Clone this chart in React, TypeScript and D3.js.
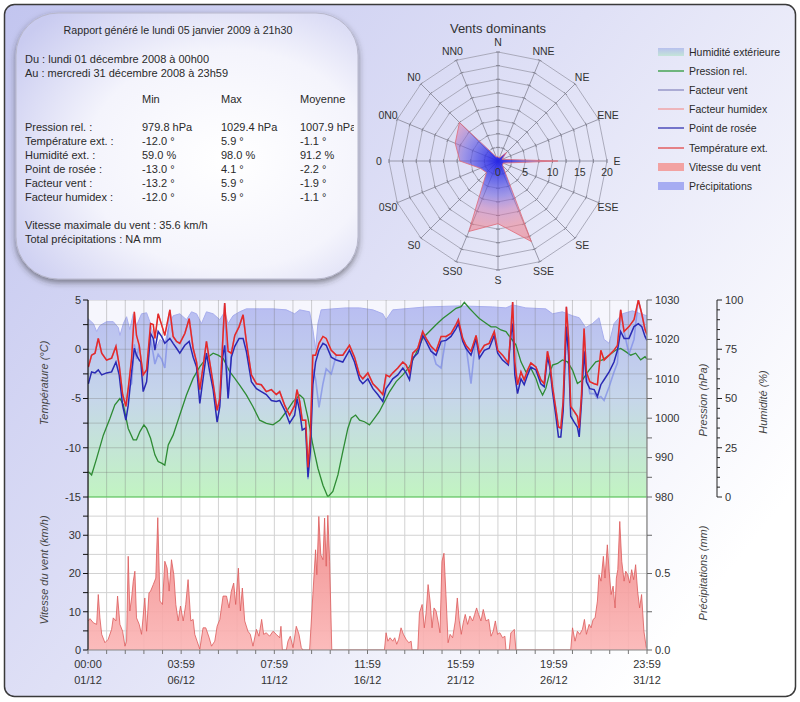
import React from "react";
import * as d3 from "d3";

// ---------------- Report ----------------
const reportTitle = "Rapport généré le lundi 05 janvier 2009 à 21h30";
const periodLines = ["Du : lundi 01 décembre 2008 à 00h00", "Au : mercredi 31 décembre 2008 à 23h59"];
const statHeaders = ["Min", "Max", "Moyenne"];
const statLabels = ["Pression rel. :", "Température ext. :", "Humidité ext. :", "Point de rosée :", "Facteur vent :", "Facteur humidex :"];
const statMin = ["979.8 hPa", "-12.0 °", "59.0 %", "-13.0 °", "-13.2 °", "-12.0 °"];
const statMax = ["1029.4 hPa", "5.9 °", "98.0 %", "4.1 °", "5.9 °", "5.9 °"];
const statAvg = ["1007.9 hPa", "-1.1 °", "91.2 %", "-2.2 °", "-1.9 °", "-1.1 °"];
const footerLines = ["Vitesse maximale du vent : 35.6 km/h", "Total précipitations : NA mm"];

// ---------------- Wind rose ----------------
const roseTitle = "Vents dominants";
const roseDirections = ["N", "NNE", "NE", "ENE", "E", "ESE", "SE", "SSE", "S", "SS0", "S0", "0S0", "0", "0N0", "N0", "NN0"];
const roseSpeeds = [0.8, 0.6, 2.2, 0.8, 11, 1, 1.2, 16, 11.5, 14, 3, 3.5, 7, 8.5, 10, 0.8];
const roseRingLabels = [0, 5, 10, 15, 20];

// ---------------- Legend ----------------
const legendLabels = ["Humidité extérieure", "Pression rel.", "Facteur vent", "Facteur humidex", "Point de rosée", "Température ext.", "Vitesse du vent", "Précipitations"];

// ---------------- Time axis ----------------
const timeLabels = ["00:00", "03:59", "07:59", "11:59", "15:59", "19:59", "23:59"];
const dateLabels = ["01/12", "06/12", "11/12", "16/12", "21/12", "26/12", "31/12"];

// ---------------- Temperature / dew point / wind chill (days since 01/12 00:00) ----------------
const tDays = [0.02,0.2,0.39,0.57,0.76,1.03,1.31,1.55,1.73,1.92,2.1,2.23,2.42,2.57,2.69,2.84,2.93,3.06,3.25,3.47,3.62,3.71,3.89,4.08,4.26,4.54,4.72,4.91,5.09,5.37,5.61,5.83,6.02,6.2,6.38,6.57,6.75,6.94,7.16,7.31,7.46,7.58,7.77,7.95,8.14,8.38,8.6,8.78,9.06,9.34,9.61,9.89,10.17,10.44,10.63,10.91,11.18,11.46,11.59,11.74,11.88,12.07,12.2,12.33,12.47,12.62,12.81,13.03,13.21,13.49,13.77,14.13,14.5,14.78,
15.06,15.24,15.52,15.8,16.07,16.35,16.53,16.72,16.9,17.18,17.46,17.64,17.83,18.01,18.29,18.56,18.75,19.02,19.3,19.58,19.86,20.13,20.41,20.54,20.78,20.96,21.24,21.52,21.7,21.98,22.25,22.53,22.72,22.99,23.31,23.45,23.55,23.67,23.82,24.01,24.19,24.38,24.56,24.84,25.11,25.3,25.48,25.61,25.76,25.94,26.09,26.22,26.35,26.53,26.65,26.77,26.96,27.14,27.24,27.37,27.51,27.64,27.83,28.07,28.25,28.44,28.62,28.9,29.17,29.36,29.54,29.73,30.0,30.28,30.52,30.71,30.89,31.0];
const tempVals = [-1.8,-0.6,-0.4,1.1,-0.4,-1.1,-0.9,0.3,-1.6,-4.6,-5.8,-4.0,-0.9,3.8,1.4,0.4,-0.9,-2.6,-2.1,2.6,2.5,1.1,3.6,2.5,1.4,4.0,1.3,0.8,0.6,1.6,3.1,0.1,-1.3,-4.1,-1.8,0.8,-1.3,-3.5,-6.2,-5.0,0.4,4.7,-0.2,-0.4,1.4,2.3,3.5,0.8,-2.6,-3.5,-3.6,-4.3,-4.1,-4.6,-4.3,-5.7,-6.7,-5.7,-4.1,-5.3,-7.2,-7.2,-12.0,-8.7,-0.6,-0.6,0.6,1.3,1.1,-0.1,-0.6,-0.6,0.4,-0.8,
-2.6,-3.0,-2.4,-3.5,-4.0,-4.6,-2.6,-2.8,-2.4,-1.9,-1.3,-1.6,-2.4,-0.4,0.1,1.8,1.1,0.3,-0.2,1.3,1.3,1.6,2.5,3.0,1.1,0.4,-0.2,1.4,-0.4,0.4,0.6,1.8,-0.1,-0.6,-1.4,1.8,4.8,-1.3,-3.6,-2.3,-3.1,-2.1,-1.4,-1.8,-3.1,-3.5,-0.2,-1.3,-3.8,-6.0,-7.9,-8.0,-5.3,4.3,1.1,-5.8,-6.3,-6.8,-8.0,-4.6,2.1,-2.3,-3.3,-3.5,-3.6,-0.1,-1.1,-0.6,-0.1,0.4,4.0,1.8,2.3,3.0,5.0,3.6,2.0,1.5];
const dewVals = [-3.5,-2.3,-2.4,-2.1,-2.6,-2.4,-2.3,-1.3,-2.6,-5.7,-7.2,-5.7,-2.3,0.1,-0.6,-1.1,-1.3,-4.3,-3.3,1.6,1.1,-0.1,1.8,1.3,0.6,1.1,0.6,0.1,-0.4,0.4,0.8,-0.8,-1.8,-5.5,-3.0,-0.4,-2.3,-4.1,-7.4,-5.8,-0.9,0.4,-5.0,-0.8,0.3,1.1,1.1,-0.2,-3.3,-4.0,-4.3,-4.6,-5.2,-5.3,-5.2,-6.2,-7.5,-6.7,-5.0,-6.3,-8.2,-8.0,-13.0,-10.4,-3.6,-1.3,-0.1,0.6,0.4,-0.8,-1.1,-1.3,-0.1,-1.3,
-3.1,-3.5,-3.0,-4.0,-4.6,-5.3,-4.0,-3.5,-3.0,-2.6,-1.9,-2.4,-3.1,-0.9,-0.4,1.4,0.8,-0.2,-0.6,0.8,0.9,1.3,2.1,2.6,0.8,0.1,-0.6,1.1,-0.9,-0.1,0.1,1.4,-0.4,-1.1,-1.6,1.4,2.6,-2.6,-4.5,-3.0,-3.6,-2.6,-1.8,-2.1,-3.5,-3.8,-0.8,-1.8,-4.3,-6.7,-8.9,-8.9,-6.3,2.3,-0.6,-6.8,-7.4,-7.9,-8.9,-5.3,-0.2,-3.3,-4.0,-4.1,-4.8,-3.6,-3.1,-2.3,-1.3,-0.1,1.8,1.1,1.1,2.3,2.6,2.3,1.3,0.9];
const chillVals = [-1.8,-0.6,-0.4,1.1,-0.4,-1.1,-0.9,0.3,-1.6,-4.6,-5.8,-4.0,-3.5,0.5,-1.0,0.4,-0.9,-2.6,-2.1,1.0,-0.5,-1.5,-0.5,-1.0,-1.9,4.0,1.3,0.8,0.6,1.6,3.1,0.1,-1.3,-4.1,-1.8,0.8,-1.3,-3.5,-6.2,-5.0,0.4,4.7,-5.0,-0.4,1.4,2.3,3.5,0.8,-2.6,-3.5,-3.6,-4.3,-4.1,-4.6,-4.3,-5.7,-6.7,-5.7,-4.1,-5.3,-7.2,-7.2,-13.2,-9.5,-2.0,-3.0,-5.9,-3.5,-2.0,-2.5,-0.6,-0.6,0.4,-0.8,
-2.6,-3.0,-2.4,-3.5,-4.0,-4.6,-2.6,-2.8,-2.4,-1.9,-1.3,-1.6,-2.4,-0.4,0.1,1.8,1.1,0.3,-1.5,-1.9,1.3,1.6,2.5,3.0,1.1,0.4,-3.5,1.4,-0.4,0.4,0.6,1.8,-0.1,-0.6,-1.4,1.8,4.8,-1.3,-3.6,-2.3,-3.1,-2.1,-1.4,-1.8,-3.1,-3.5,-0.2,-1.3,-3.8,-6.0,-7.9,-8.0,-5.3,4.3,1.1,-5.8,-6.3,-6.8,-8.0,-4.6,2.1,-2.3,-4.5,-4.5,-5.0,-4.8,-5.2,-3.8,-2.3,-1.4,4.0,1.8,-0.5,1.0,5.0,3.6,2.0,1.5];
const humidexVals = tempVals;

// ---------------- Pressure ----------------
const pDays = [0.02,0.2,0.48,0.85,1.22,1.49,1.77,1.96,2.23,2.51,2.69,2.88,3.1,3.25,3.47,3.71,3.89,4.08,4.26,4.45,4.72,5.09,5.46,5.83,6.2,6.57,6.94,7.21,7.49,7.86,8.14,8.41,8.78,9.15,9.52,9.89,10.26,10.63,11.0,11.37,11.74,11.96,12.2,12.47,12.75,13.03,13.3,13.58,13.86,14.13,14.41,14.6,14.84,
15.06,15.33,15.61,15.89,16.16,16.44,16.72,17.09,17.46,17.83,18.19,18.56,18.93,19.3,19.67,20.04,20.41,20.69,20.87,21.15,21.42,21.7,22.07,22.35,22.62,22.9,23.18,23.45,23.73,24.01,24.28,24.56,24.84,25.02,25.21,25.39,25.58,25.76,26.04,26.31,26.59,26.87,27.14,27.42,27.79,28.16,28.53,28.9,29.27,29.54,29.82,30.1,30.37,30.65,30.89,31.0];
const pVals = [986.4,985.6,989.8,995.7,1000.0,1003.4,1005.0,1003.4,997.4,994.5,994.5,996.6,998.3,997.4,994.9,990.7,989.0,988.6,988.1,993.2,995.7,1000.8,1005.9,1010.1,1013.1,1015.2,1016.5,1016.0,1015.2,1011.8,1010.1,1008.4,1005.9,1002.9,999.5,998.7,998.3,999.5,1001.7,1004.2,1005.9,1005.0,1000.0,993.2,987.3,983.0,980.0,981.4,985.6,991.5,997.4,1000.0,1000.8,
999.5,999.1,998.3,1000.0,1001.7,1004.2,1006.7,1009.3,1011.0,1013.1,1016.5,1020.3,1022.0,1023.7,1025.3,1026.6,1027.9,1028.3,1029.4,1027.9,1026.6,1025.3,1024.1,1023.2,1023.2,1022.4,1022.0,1020.3,1018.6,1014.3,1011.8,1012.7,1010.1,1007.6,1005.9,1007.6,1011.0,1013.5,1013.9,1014.8,1014.3,1012.2,1008.8,1009.7,1012.2,1014.3,1014.8,1016.0,1017.3,1017.7,1016.9,1016.0,1016.5,1014.8,1015.6,1015.0];

// ---------------- Humidity ----------------
const hDays = [0.0,0.3,0.48,0.66,1.03,1.4,1.68,1.77,1.96,2.14,2.32,2.51,2.69,2.97,3.25,3.43,3.62,3.76,3.99,4.26,4.45,4.72,5.09,5.46,5.74,6.02,6.29,6.57,6.94,7.31,7.58,7.77,8.04,8.41,8.78,9.52,10.26,11.0,11.46,11.74,12.29,12.47,12.62,12.75,12.93,13.58,14.32,15.06,15.8,16.35,16.53,16.9,18.75,20.59,22.44,23.18,23.55,24.28,25.39,25.76,26.31,26.87,27.24,27.6,27.97,28.34,28.62,28.9,29.17,29.63,30.19,30.65,31.0];
const hVals = [90.5,88,84,87,89,89,86,82,88,91.5,85,93,87,93,93.5,89,82,75,80,78,85,92,93,90,94,93,88,94,93,90,94,88,92,94,95.5,95.5,95.5,95,93,95,94,85,75,88,95,95.5,96,96,95,93,90,95,96.5,97,96.5,96,97.5,96,95.5,93,94,92,91,86,88,91,80,78,88,93,94.5,93,92];

// ---------------- Wind speed (km/h) ----------------
const wDays = [0.02,0.11,0.30,0.48,0.57,0.66,0.76,0.94,1.12,1.31,1.40,1.55,1.64,1.77,1.92,2.05,2.14,2.23,2.32,2.42,2.51,2.60,2.69,2.84,2.97,3.15,3.25,3.38,3.47,3.62,3.76,3.87,3.99,4.13,4.26,4.39,4.50,4.63,4.76,4.87,5.00,5.13,5.28,5.42,5.55,5.70,5.83,5.92,6.05,6.20,6.38,6.53,6.72,6.85,7.03,7.16,7.31,7.49,7.68,7.82,7.95,8.08,8.19,8.34,8.45,8.56,8.69,8.87,9.00,9.15,9.34,9.48,9.63,9.74,9.89,10.07,10.26,10.44,10.63,10.70,10.78,11.00,11.09,11.22,11.37,11.55,11.70,11.83,11.92,12.29,12.47,12.62,12.69,12.80,12.91,13.03,13.12,13.21,13.30,13.40,13.52,
16.44,16.53,16.63,16.75,16.90,17.01,17.12,17.23,17.36,17.49,17.64,17.79,17.92,17.97,18.29,18.38,18.53,18.65,18.75,18.86,18.97,19.08,19.19,19.30,19.41,19.52,19.63,19.74,19.85,19.97,20.08,20.22,20.37,20.48,20.59,20.70,20.81,20.92,21.05,21.18,21.33,21.44,21.55,21.66,21.79,21.92,22.07,22.22,22.35,22.47,22.59,22.71,22.84,22.99,23.12,23.18,23.36,23.45,23.55,23.64,23.73,26.77,26.87,27.01,27.14,27.27,27.42,27.53,27.64,27.79,27.90,28.01,28.12,28.25,28.34,28.45,28.58,28.67,28.80,28.90,29.01,29.12,29.23,29.30,29.38,29.49,29.60,29.73,29.82,29.93,30.04,30.15,30.26,30.37,30.48,30.59,30.70,30.83,30.96];
const wVals = [7.6,8.2,7.1,6.7,14.5,8.4,4.1,1.9,2.8,5.4,8.4,7.6,14.1,6.7,4.9,1.0,2.3,24.5,10.2,13.6,18.0,20.6,8.4,6.7,4.1,13.6,4.9,14.9,15.4,17.1,18.8,34.6,12.8,11.9,23.2,21.4,15.4,23.6,19.7,11.9,7.6,11.5,7.6,11.9,18.4,7.6,8.0,4.1,2.3,0.2,5.8,5.8,3.2,1.0,2.3,6.2,8.0,14.1,14.1,11.0,15.4,17.5,11.9,21.4,10.2,16.2,7.6,4.9,4.1,1.0,5.4,3.6,8.0,4.1,4.5,3.6,4.9,4.1,3.2,6.2,0,0,2.3,3.6,0.6,6.2,4.1,0.6,0,0,14.5,26.2,19.7,34.9,24.9,23.6,34.5,21.9,35.2,23.2,0,
0,4.5,2.3,3.2,2.3,3.2,1.5,2.8,5.8,4.1,2.8,1.9,2.3,0,0,9.7,11.9,5.8,9.7,17.1,12.8,5.8,11.0,10.2,7.6,4.5,23.2,25.3,14.5,1.9,4.1,3.2,7.6,13.6,7.6,4.1,7.1,9.3,6.7,8.9,7.6,9.3,11.0,9.3,7.6,10.6,7.6,8.0,3.6,4.9,7.6,4.1,4.5,3.2,3.6,0,0,4.5,4.9,5.4,0,0,5.8,2.3,4.9,4.1,5.4,8.0,4.1,6.7,5.8,8.0,8.4,12.8,19.7,18.0,24.5,18.8,27.5,20.6,14.5,16.7,11.0,18.8,21.0,33.6,23.2,18.0,20.6,19.7,17.5,21.0,18.4,22.3,15.4,11.0,14.5,4.9,0.6];

const FONT = "'Liberation Sans', Arial, Helvetica, sans-serif";

export default function App() {
  const X0 = 88, X1 = 647, T0 = 300, T1 = 497, B1 = 650;
  const x = d3.scaleLinear().domain([0, 31]).range([X0, X1]);
  const yT = d3.scaleLinear().domain([-15, 5]).range([T1, T0]);
  const yP = d3.scaleLinear().domain([980, 1030]).range([T1, T0]);
  const yH = d3.scaleLinear().domain([0, 100]).range([T1, T0]);
  const yW = d3.scaleLinear().domain([0, 40]).range([B1, T1]);
  const yR = d3.scaleLinear().domain([0, 1]).range([B1, T1]);

  const mkLine = (days: number[], ys: (v: number) => number) =>
    d3.line<number>().x((_, i) => x(days[i])).y((v) => ys(v));
  const tLine = mkLine(tDays, yT);
  const pLine = mkLine(pDays, yP);
  const hArea = d3.area<number>().x((_, i) => x(hDays[i])).y0(T1).y1((v) => yH(v));
  const hLine = mkLine(hDays, yH);
  const wArea = d3.area<number>().x((_, i) => x(wDays[i])).y0(B1).y1((v) => yW(v));
  const wLine = mkLine(wDays, yW);

  const vGrid = d3.range(31).map((i) => (i * 31) / 30);
  const tTicks = d3.range(-15, 5.01, 2.5);
  const pTicks = d3.range(980, 1030.1, 5);
  const hTicks = d3.range(0, 100.1, 5);
  const wTicks = d3.range(0, 40.1, 5);
  const rTicks = [0, 0.25, 0.5, 0.75];

  // Rose
  const cx = 498, cy = 161, R = 109;
  const rr = d3.scaleLinear().domain([0, 20]).range([0, R]);
  const ang = (i: number) => (i * Math.PI * 2) / 16;
  const radial = d3.lineRadial<number>().angle((_, i) => ang(i)).radius((v) => rr(v)).curve(d3.curveLinearClosed);
  const rings = d3.range(2.5, 20.01, 2.5);

  const legendY = [52, 71, 90, 109, 128, 148, 167, 186];
  const legendSw = [
    { kind: "rect", fill: "url(#legHum)" },
    { kind: "line", stroke: "#2e9a3a" },
    { kind: "line", stroke: "#8a8ac0" },
    { kind: "line", stroke: "#f29a9a" },
    { kind: "line", stroke: "#3434b0" },
    { kind: "line", stroke: "#e24848" },
    { kind: "rect", fill: "#f2a2a2" },
    { kind: "rect", fill: "#a6acf2" },
  ];

  const txt = "#2a2a2a";

  return (
    <svg width={800} height={702} style={{ position: "absolute", left: 0, top: 0 }} fontFamily={FONT}>
      <defs>
        <linearGradient id="bg" x1="0" y1="0" x2="1" y2="0.7">
          <stop offset="0" stopColor="#c2c5ef" />
          <stop offset="0.5" stopColor="#dfe0f6" />
          <stop offset="1" stopColor="#ffffff" />
        </linearGradient>
        <radialGradient id="box" cx="0.62" cy="0.55" r="0.75">
          <stop offset="0" stopColor="#ffffff" />
          <stop offset="0.55" stopColor="#f4f4fc" />
          <stop offset="1" stopColor="#c9cbf0" />
        </radialGradient>
        <filter id="shadow" x="-10%" y="-10%" width="120%" height="125%">
          <feDropShadow dx="0" dy="3" stdDeviation="3" floodColor="#333" floodOpacity="0.55" />
        </filter>
        <clipPath id="boxClip">
          <rect x={16} y={13} width={338} height={266} rx={42} />
        </clipPath>
        <linearGradient id="humGrad" gradientUnits="userSpaceOnUse" x1="0" y1={T0} x2="0" y2={T1}>
          <stop offset="0" stopColor="#b8bcf2" />
          <stop offset="0.5" stopColor="#c6d6ea" />
          <stop offset="1" stopColor="#c2f4c2" />
        </linearGradient>
        <linearGradient id="legHum" x1="0" y1="0" x2="0" y2="1">
          <stop offset="0" stopColor="#b8c0ee" />
          <stop offset="1" stopColor="#c4e4d8" />
        </linearGradient>
        <linearGradient id="windGrad" gradientUnits="userSpaceOnUse" x1="0" y1={T1} x2="0" y2={B1}>
          <stop offset="0" stopColor="#ee8080" />
          <stop offset="1" stopColor="#fbb4b4" />
        </linearGradient>
        {/* centred on the rose origin (the path is drawn in translated coordinates) */}
        <radialGradient id="roseGrad" gradientUnits="userSpaceOnUse" cx={0} cy={0} r={R}>
          <stop offset="0" stopColor="#2020e8" stopOpacity="0.95" />
          <stop offset="0.2" stopColor="#4a4ae4" stopOpacity="0.72" />
          <stop offset="0.32" stopColor="#7060dc" stopOpacity="0.58" />
          <stop offset="0.45" stopColor="#c470b0" stopOpacity="0.5" />
          <stop offset="0.6" stopColor="#ec7484" stopOpacity="0.5" />
          <stop offset="1" stopColor="#f06c6c" stopOpacity="0.58" />
        </radialGradient>
        <clipPath id="topClip"><rect x={X0} y={T0} width={X1 - X0} height={T1 - T0} /></clipPath>
        <clipPath id="botClip"><rect x={X0} y={T1} width={X1 - X0} height={B1 - T1} /></clipPath>
      </defs>

      {/* frame */}
      <rect x={4.5} y={4.5} width={791} height={692} rx={10} fill="url(#bg)" stroke="#3a3a3a" strokeWidth={1.5} />

      {/* report box */}
      <rect x={16} y={13} width={342} height={266} rx={42} fill="url(#box)" stroke="#b8b8cc" strokeWidth={1} filter="url(#shadow)" />
      <g clipPath="url(#boxClip)" fontSize={11} fill={txt}>
        <text x={178} y={34} textAnchor="middle" fontSize={10.7}>{reportTitle}</text>
        {periodLines.map((s, i) => (
          <text key={s} x={25} y={63 + i * 14}>{s}</text>
        ))}
        {statHeaders.map((s, i) => (
          <text key={s} x={[142, 221, 300][i]} y={103}>{s}</text>
        ))}
        {statLabels.map((s, i) => (
          <g key={s}>
            <text x={25} y={131 + i * 14}>{s}</text>
            <text x={142} y={131 + i * 14}>{statMin[i]}</text>
            <text x={221} y={131 + i * 14}>{statMax[i]}</text>
            <text x={300} y={131 + i * 14}>{statAvg[i]}</text>
          </g>
        ))}
        {footerLines.map((s, i) => (
          <text key={s} x={25} y={229 + i * 14}>{s}</text>
        ))}
      </g>

      {/* wind rose */}
      <text x={cx} y={33} textAnchor="middle" fontSize={13} fill="#333">{roseTitle}</text>
      <g>
        {rings.map((r) => (
          <path key={r} d={radial(roseDirections.map(() => r)) || ""} transform={`translate(${cx},${cy})`} fill="none" stroke="#a4a4b4" strokeWidth={0.9} />
        ))}
        {roseDirections.map((d, i) => {
          const a = ang(i);
          return (
            <line key={d} x1={cx} y1={cy} x2={cx + R * Math.sin(a)} y2={cy - R * Math.cos(a)} stroke="#9090a0" strokeWidth={0.9} />
          );
        })}
        {roseDirections.map((d, i) => {
          const a = ang(i);
          return rings.map((r) => {
            const px = cx + rr(r) * Math.sin(a), py = cy - rr(r) * Math.cos(a);
            const tx = Math.cos(a) * 2, ty = Math.sin(a) * 2;
            return <line key={d + r} x1={px - tx} y1={py - ty} x2={px + tx} y2={py + ty} stroke="#808090" strokeWidth={0.9} />;
          });
        })}
        <path d={radial(roseSpeeds) || ""} transform={`translate(${cx},${cy})`} fill="url(#roseGrad)" stroke="#e06a78" strokeWidth={1} strokeOpacity={0.8} />
        {roseDirections.map((d, i) => {
          const a = ang(i);
          return (
            <text key={d} x={cx + 119 * Math.sin(a)} y={cy - 119 * Math.cos(a)} textAnchor="middle" dominantBaseline="central" fontSize={10.5} fill="#333">{d}</text>
          );
        })}
        {roseRingLabels.map((v) => (
          <text key={v} x={cx + rr(v)} y={cy + 15} textAnchor="middle" fontSize={10.5} fill="#333">{v}</text>
        ))}
      </g>

      {/* legend */}
      <g fontSize={10.5} fill={txt}>
        {legendLabels.map((s, i) => {
          const sw = legendSw[i];
          return (
            <g key={s}>
              {sw.kind === "rect" ? (
                <rect x={658} y={legendY[i] - 4} width={26} height={8} fill={sw.fill} />
              ) : (
                <line x1={658} x2={684} y1={legendY[i]} y2={legendY[i]} stroke={sw.stroke} strokeWidth={1.3} />
              )}
              <text x={689} y={legendY[i]} dominantBaseline="central">{s}</text>
            </g>
          );
        })}
      </g>

      {/* ---------- top plot ---------- */}
      <rect x={X0} y={T0} width={X1 - X0} height={T1 - T0} fill="#f6f6fd" />
      <g clipPath="url(#topClip)">
        <path d={hArea(hVals) || ""} fill="url(#humGrad)" />
        <path d={hLine(hVals) || ""} fill="none" stroke="#a8aeee" strokeWidth={1} />
        {tTicks.map((t) => (
          <line key={t} x1={X0} x2={X1} y1={yT(t)} y2={yT(t)} stroke="#777" strokeOpacity={0.35} />
        ))}
        {vGrid.map((d) => (
          <line key={d} x1={x(d)} x2={x(d)} y1={T0} y2={T1} stroke="#777" strokeOpacity={0.35} />
        ))}
        <path d={pLine(pVals) || ""} fill="none" stroke="#2e8b34" strokeWidth={1.3} />
        <path d={tLine(chillVals) || ""} fill="none" stroke="#6f7fe6" strokeOpacity={0.6} strokeWidth={1.6} />
        <path d={tLine(humidexVals) || ""} fill="none" stroke="#f29a9a" strokeWidth={1.2} />
        <path d={tLine(dewVals) || ""} fill="none" stroke="#2a2ab4" strokeWidth={1.5} />
        <path d={tLine(tempVals) || ""} fill="none" stroke="#e32a2a" strokeWidth={1.5} />
      </g>

      {/* ---------- bottom plot ---------- */}
      <rect x={X0} y={T1} width={X1 - X0} height={B1 - T1} fill="#ffffff" />
      <g clipPath="url(#botClip)">
        {wTicks.map((t) => (
          <line key={t} x1={X0} x2={X1} y1={yW(t)} y2={yW(t)} stroke="#d2d2d2" />
        ))}
        {vGrid.map((d) => (
          <line key={d} x1={x(d)} x2={x(d)} y1={T1} y2={B1} stroke="#d2d2d2" />
        ))}
        <path d={wArea(wVals) || ""} fill="url(#windGrad)" fillOpacity={0.9} />
        <path d={wLine(wVals) || ""} fill="none" stroke="#dc5a5a" strokeWidth={0.8} />
      </g>
      <line x1={X0} x2={X1} y1={T1} y2={T1} stroke="#55cc55" strokeWidth={1.2} />

      {/* left axis */}
      <line x1={X0} x2={X0} y1={T0} y2={B1} stroke="#111" strokeWidth={1.2} />
      <g fontSize={11} fill="#333">
        {tTicks.map((t) => (
          <g key={t}>
            <line x1={X0 - 5} x2={X0} y1={yT(t)} y2={yT(t)} stroke="#111" />
            {t % 5 === 0 && <text x={X0 - 7} y={yT(t)} dy="0.35em" textAnchor="end">{t}</text>}
          </g>
        ))}
        {wTicks.filter((t) => t < 40).map((t) => (
          <g key={t}>
            <line x1={X0 - 5} x2={X0} y1={yW(t)} y2={yW(t)} stroke="#111" />
            {t % 10 === 0 && <text x={X0 - 7} y={yW(t)} dy="0.35em" textAnchor="end">{t}</text>}
          </g>
        ))}
      </g>

      {/* right axes */}
      <line x1={X1} x2={X1} y1={T0} y2={B1} stroke="#888" strokeWidth={1.3} />
      <g fontSize={11} fill="#333">
        {pTicks.map((p) => (
          <g key={p}>
            <line x1={X1} x2={X1 + 5} y1={yP(p)} y2={yP(p)} stroke="#666" />
            {p % 10 === 0 && <text x={X1 + 8} y={yP(p)} dy="0.35em">{p}</text>}
          </g>
        ))}
        {rTicks.map((r) => (
          <g key={r}>
            <line x1={X1} x2={X1 + 5} y1={yR(r)} y2={yR(r)} stroke="#666" />
            {r % 0.5 === 0 && <text x={X1 + 8} y={yR(r)} dy="0.35em">{r.toFixed(1)}</text>}
          </g>
        ))}
        <line x1={717} x2={717} y1={T0} y2={T1} stroke="#222" strokeWidth={1} />
        {hTicks.map((h) => (
          <g key={h}>
            <line x1={717} x2={h % 25 === 0 ? 722 : 720} y1={yH(h)} y2={yH(h)} stroke="#222" />
            {h % 25 === 0 && <text x={725} y={yH(h)} dy="0.35em">{h}</text>}
          </g>
        ))}
      </g>

      {/* bottom axis */}
      <line x1={X0} x2={X1} y1={B1} y2={B1} stroke="#888" strokeWidth={1.2} />
      <g fontSize={11} fill="#333">
        {vGrid.map((d) => (
          <line key={d} x1={x(d)} x2={x(d)} y1={B1} y2={B1 + 4} stroke="#777" />
        ))}
        {timeLabels.map((s, i) => {
          const d = (i * 31) / 6;
          return (
            <g key={s + i}>
              <text x={x(d)} y={668} textAnchor="middle">{s}</text>
              <text x={x(d)} y={684} textAnchor="middle">{dateLabels[i]}</text>
            </g>
          );
        })}
      </g>

      {/* axis titles */}
      <g fontSize={11} fontStyle="italic" fill="#444" textAnchor="middle">
        <text transform="translate(48,383) rotate(-90)">Température (°C)</text>
        <text transform="translate(48,570) rotate(-90)">Vitesse du vent (km/h)</text>
        <text transform="translate(707,400) rotate(-90)">Pression (hPa)</text>
        <text transform="translate(767,402) rotate(-90)">Humidité (%)</text>
        <text transform="translate(707,573) rotate(-90)">Précipitations (mm)</text>
      </g>
    </svg>
  );
}
